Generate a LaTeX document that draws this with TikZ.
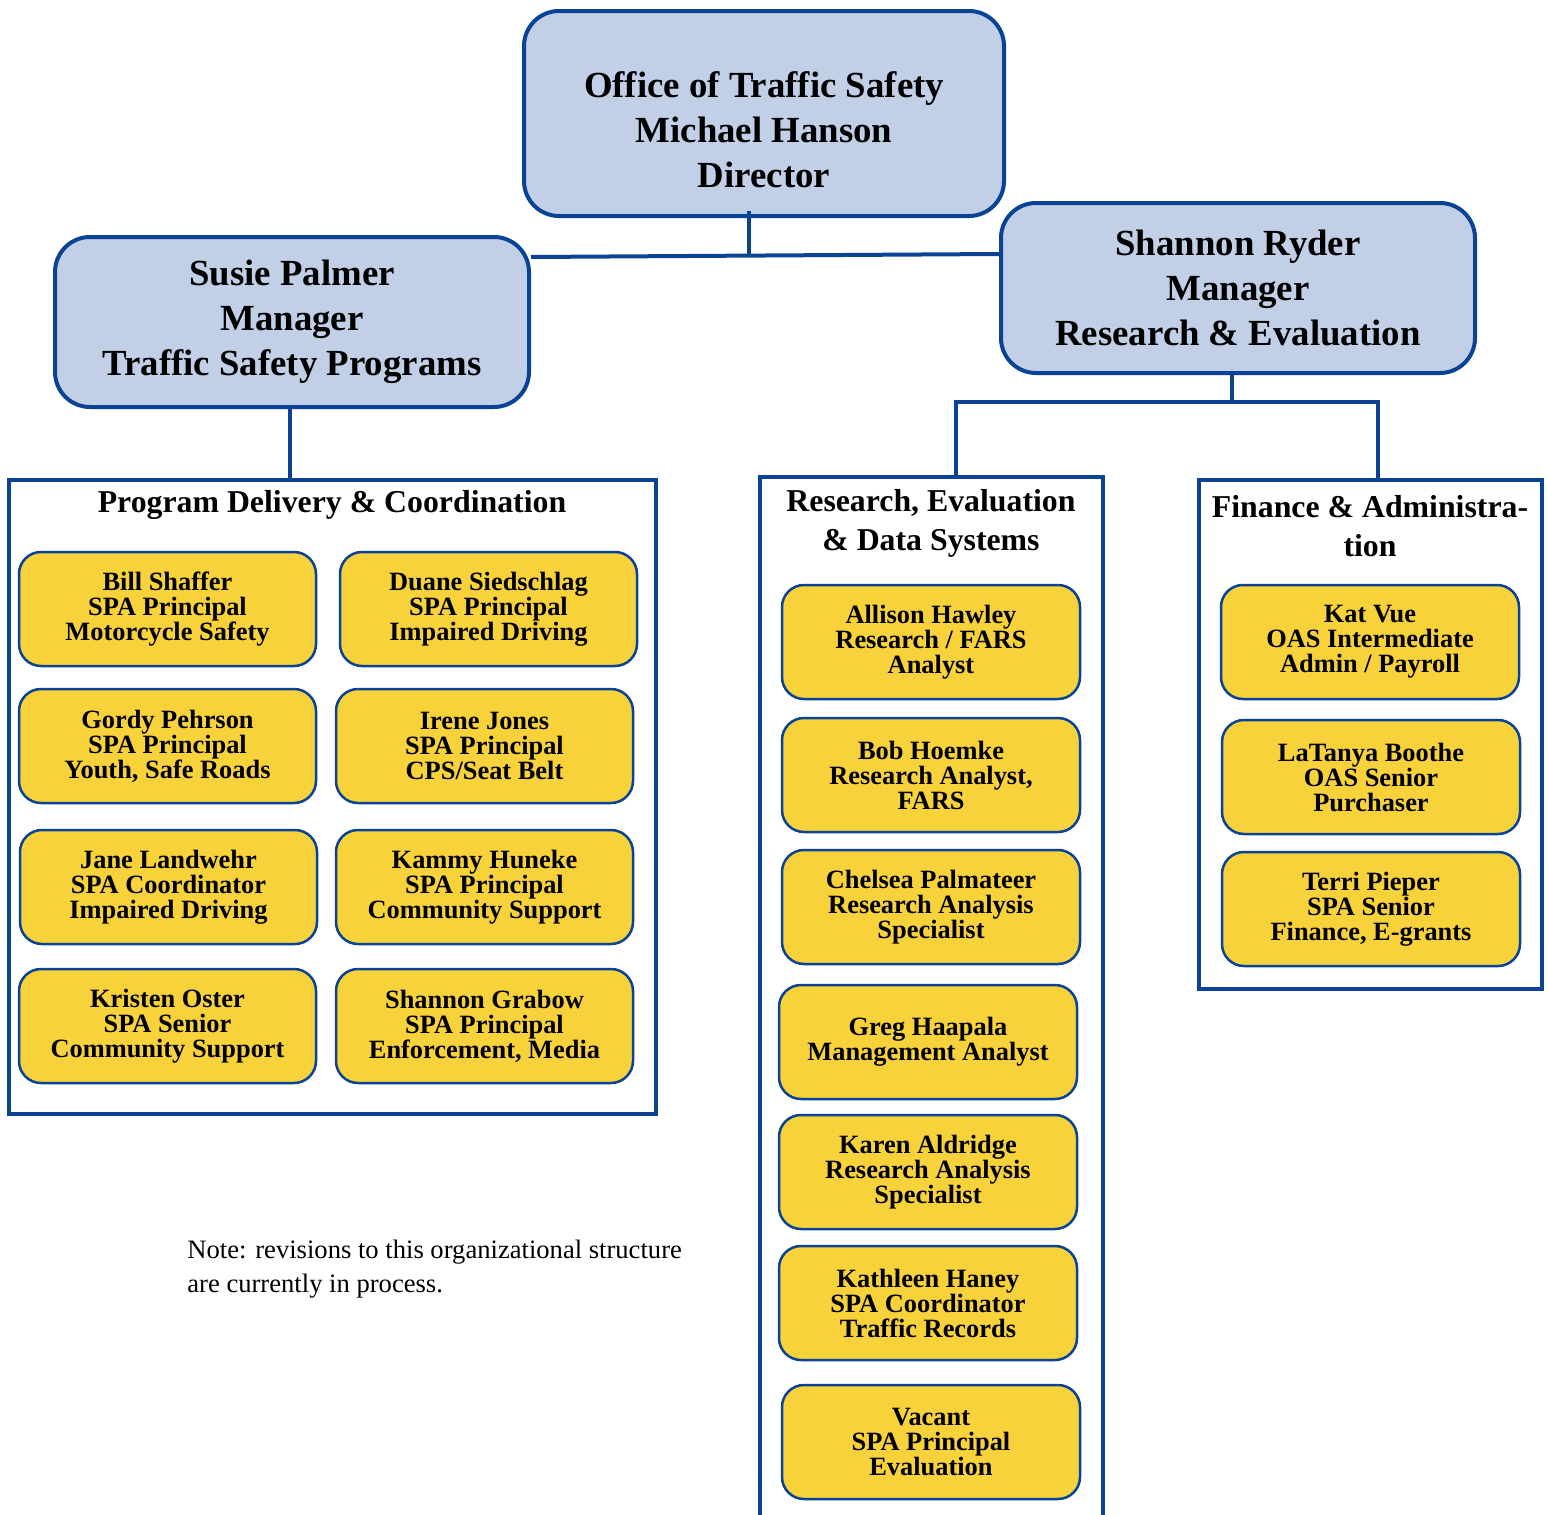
\documentclass[tikz,border=0pt]{standalone}
\usepackage{fontspec}
\setmainfont{Liberation Serif}
\definecolor{ob}{HTML}{0A4396}
\definecolor{bfill}{HTML}{C1D0E6}
\definecolor{yfill}{HTML}{F8D23A}
\newcommand{\orgbox}[7]{\node[#1, minimum width={(#5-#3)*0.5pt-1pt}, minimum height={(#6-#4)*0.5pt-1pt}] (#2) at ({(#3+#5)/2},{(#4+#6)/2}) {#7};}
\tikzset{
  bluebox/.style={draw=ob, line width=2pt, fill=bfill, rounded corners=17.5pt, align=center, inner sep=0pt, font=\bfseries\fontsize{18.4}{22.5}\selectfont},
  bluetext/.style={align=center, inner sep=0pt, font=\bfseries\fontsize{18.4}{22.5}\selectfont},
  ybox/.style={draw=ob, line width=1.25pt, fill=yfill, rounded corners=11pt, align=center, inner sep=0pt, font=\bfseries\fontsize{13.2}{12.5}\selectfont},
  frame/.style={draw=ob, line width=2pt, inner sep=0pt},
  conn/.style={draw=ob, line width=2pt},
  ptitle/.style={align=center, inner sep=0pt, font=\bfseries\fontsize{15.9}{19.5}\selectfont},
  notetext/.style={align=left, inner sep=0pt, font=\fontsize{13.3}{17}\selectfont}
}
\begin{document}
\begin{tikzpicture}[x=0.5pt,y=-0.5pt]
\useasboundingbox (0,0) rectangle (1549,1515);
% connectors under boxes
\coordinate (dj) at (749,256);
\coordinate (k) at (1232,402);
\coordinate (p2top) at (956,477);
% top boxes
\orgbox{bluebox, label={[bluetext,yshift=-8.25pt]center:{Office of Traffic Safety\\Michael Hanson\\Director}}}{dir}{523}{10}{1005}{217}{}
\orgbox{bluebox}{sp}{54}{236}{530}{408}{Susie Palmer\\Manager\\Traffic Safety Programs}
\orgbox{bluebox}{sr}{1000}{202}{1476}{374}{Shannon Ryder\\Manager\\Research \& Evaluation}
% panels
\orgbox{frame}{p1}{8}{479}{657}{1115}{}
\orgbox{frame}{p3}{1198}{479}{1543}{990}{}
\draw[conn] (760,1520) -- (760,477) -- (1103,477) -- (1103,1520);
% connectors
\draw[conn] (dir.south -| dj) ++(0,-7) -- (dj);
\draw[conn] (sp.east |- 0,257) -- (sr.west |- 0,254);
\draw[conn] (sp.south -| 290,0) -- (p1.north -| 290,0);
\draw[conn] (sr.south -| k) -- (k);
\draw[conn] (p2top) |- (k) -| (p3.north -| 1378,0);
% panel titles
\node[ptitle] (t1) at (332,505) {Program Delivery \& Coordination};
\node[ptitle] (t2) at (931,523.5) {Research, Evaluation\\\& Data Systems};
\node[ptitle] (t3) at (1370,526) {Finance \& Administra-\\tion};
% panel 1
\orgbox{ybox}{b1}{18}{551}{317}{667}{Bill Shaffer\\SPA Principal\\Motorcycle Safety}
\orgbox{ybox}{b2}{339}{551}{638}{667}{Duane Siedschlag\\SPA Principal\\Impaired Driving}
\orgbox{ybox}{b3}{18}{688}{317}{804}{Gordy Pehrson\\SPA Principal\\Youth, Safe Roads}
\orgbox{ybox}{b4}{335}{688}{634}{804}{Irene Jones\\SPA Principal\\CPS/Seat Belt}
\orgbox{ybox}{b5}{19}{829}{318}{945}{Jane Landwehr\\SPA Coordinator\\Impaired Driving}
\orgbox{ybox}{b6}{335}{829}{634}{945}{Kammy Huneke\\SPA Principal\\Community Support}
\orgbox{ybox}{b7}{18}{968}{317}{1084}{Kristen Oster\\SPA Senior\\Community Support}
\orgbox{ybox}{b8}{335}{968}{634}{1084}{Shannon Grabow\\SPA Principal\\Enforcement, Media}
% panel 2
\orgbox{ybox}{c1}{781}{584}{1081}{700}{Allison Hawley\\Research / FARS\\Analyst}
\orgbox{ybox}{c2}{781}{717}{1081}{833}{Bob Hoemke\\Research Analyst,\\FARS}
\orgbox{ybox}{c3}{781}{849}{1081}{965}{Chelsea Palmateer\\Research Analysis\\Specialist}
\orgbox{ybox}{c4}{778}{984}{1078}{1100}{Greg Haapala\\Management Analyst}
\orgbox{ybox}{c5}{778}{1114}{1078}{1230}{Karen Aldridge\\Research Analysis\\Specialist}
\orgbox{ybox}{c6}{778}{1245}{1078}{1361}{Kathleen Haney\\SPA Coordinator\\Traffic Records}
\orgbox{ybox}{c7}{781}{1384}{1081}{1500}{Vacant\\SPA Principal\\Evaluation}
% panel 3
\orgbox{ybox}{d1}{1220}{584}{1520}{700}{Kat Vue\\OAS Intermediate\\Admin / Payroll}
\orgbox{ybox}{d2}{1221}{719}{1521}{835}{LaTanya Boothe\\OAS Senior\\Purchaser}
\orgbox{ybox}{d3}{1221}{851}{1521}{967}{Terri Pieper\\SPA Senior\\Finance, E-grants}
% note
\node[notetext, anchor=west] (note) at (187,1269) {Note: revisions to this organizational structure\\are currently in process.};
\end{tikzpicture}
\end{document}
